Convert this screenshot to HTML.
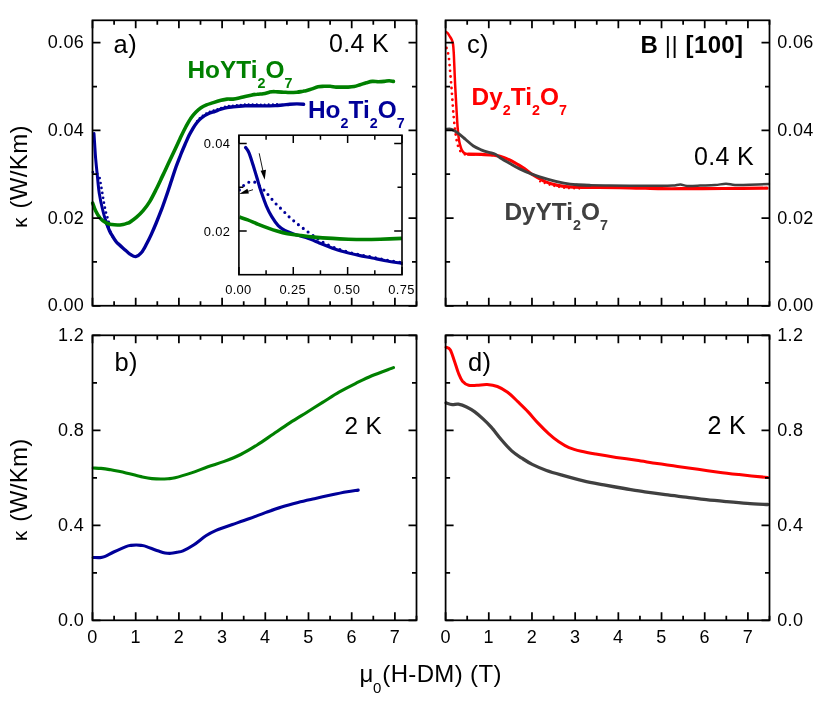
<!DOCTYPE html>
<html><head><meta charset="utf-8"><title>chart</title>
<style>
html,body{margin:0;padding:0;background:#fff;}
svg{display:block;will-change:transform;}
text{font-family:"Liberation Sans",sans-serif;letter-spacing:0.35px;}
.chem{letter-spacing:0;}
</style></head><body>
<svg width="830" height="701" viewBox="0 0 830 701">
<rect width="830" height="701" fill="#fff"/>
<path d="M92.9,172.2 C93.3,172.2 94.5,171.6 95.5,172.2 C96.5,172.8 98.1,174.6 98.9,176.0 C99.7,177.4 99.8,179.1 100.1,180.6 C100.4,182.1 100.7,183.6 101.0,185.2 C101.3,186.8 101.5,188.3 101.8,190.0 C102.1,191.7 102.4,193.4 102.7,195.1 C103.0,196.8 103.2,198.4 103.5,200.2 C103.8,202.0 104.1,203.8 104.5,205.7 C104.9,207.5 105.3,209.5 105.7,211.3 C106.1,213.1 106.6,214.9 107.1,216.5 C107.6,218.1 108.3,218.9 108.6,220.7 C108.9,222.5 108.2,225.2 108.7,227.5 C109.2,229.8 110.6,232.4 111.6,234.5 C112.6,236.6 113.5,238.4 114.8,240.0 C116.0,241.6 118.4,243.5 119.1,244.2" fill="none" stroke="#000099" stroke-width="2.7" stroke-linecap="round" stroke-dasharray="0 5.0"/>
<path d="M197.0,121.0 C197.7,120.2 199.5,118.0 201.4,116.5 C203.3,115.0 205.9,113.4 208.2,112.3 C210.5,111.2 212.9,110.7 215.0,109.9 C217.1,109.2 219.0,108.4 221.0,107.8 C223.0,107.2 225.0,106.6 227.0,106.2 C229.0,105.8 231.1,105.7 233.1,105.5 C235.1,105.3 237.1,105.1 239.1,104.9 C241.1,104.7 243.1,104.5 245.1,104.4 C247.1,104.3 248.1,104.3 251.1,104.3 C254.1,104.3 258.7,104.5 263.2,104.5 C267.7,104.5 275.5,104.2 278.0,104.2" fill="none" stroke="#000099" stroke-width="2.2" stroke-linecap="round" stroke-dasharray="0 4.0"/>
<path d="M94.0,133.5 C94.1,135.1 94.3,138.7 94.6,143.0 C94.9,147.3 95.2,153.6 95.7,159.2 C96.2,164.8 96.8,170.6 97.4,176.3 C98.0,182.0 98.4,187.8 99.3,193.4 C100.2,199.0 101.6,205.4 102.7,210.0 C103.8,214.6 104.8,217.9 105.7,220.7 C106.6,223.5 107.6,225.8 108.0,226.8" fill="none" stroke="#000099" stroke-width="3.0" stroke-linecap="round" stroke-linejoin="round"/>
<path d="M105.7,220.7 C106.3,222.4 108.4,228.3 109.6,231.0 C110.8,233.7 111.8,234.9 112.8,236.6 C113.8,238.3 114.8,239.9 115.8,241.2 C116.8,242.5 117.3,243.0 119.0,244.6 C120.7,246.2 124.0,248.9 125.8,250.5 C127.6,252.1 128.3,253.1 130.0,254.1 C131.7,255.1 133.8,256.9 135.7,256.6 C137.6,256.3 139.7,254.6 141.5,252.5 C143.3,250.4 144.8,247.3 146.4,244.3 C148.0,241.3 149.7,238.0 151.3,234.4 C152.9,230.8 154.6,226.9 156.2,223.0 C157.8,219.1 159.4,215.1 161.1,210.7 C162.8,206.3 164.4,201.5 166.1,196.7 C167.8,191.9 169.4,186.9 171.0,182.0 C172.6,177.1 174.3,171.8 175.9,167.2 C177.5,162.6 179.3,158.3 180.8,154.5 C182.3,150.7 183.6,147.7 185.0,144.5 C186.4,141.3 187.7,138.2 189.0,135.5 C190.3,132.8 191.7,130.5 193.0,128.3 C194.3,126.1 195.6,124.2 197.0,122.5 C198.4,120.8 199.5,119.5 201.4,118.0 C203.3,116.5 205.9,114.9 208.2,113.8 C210.5,112.7 212.9,112.2 215.0,111.4 C217.1,110.6 219.0,109.8 221.0,109.2 C223.0,108.6 225.0,108.0 227.0,107.6 C229.0,107.2 231.1,107.1 233.1,106.9 C235.1,106.7 237.1,106.5 239.1,106.3 C241.1,106.1 243.1,105.9 245.1,105.8 C247.1,105.7 248.1,105.7 251.1,105.7 C254.1,105.7 259.2,105.9 263.2,105.9 C267.2,105.9 272.0,105.8 275.2,105.6 C278.4,105.4 280.1,105.2 282.5,105.0 C284.9,104.8 287.3,104.4 289.7,104.2 C292.1,104.0 294.6,103.9 296.9,103.9 C299.2,103.9 302.5,104.2 303.6,104.3" fill="none" stroke="#000099" stroke-width="3.4" stroke-linecap="round" stroke-linejoin="round"/>
<path d="M92.7,203.2 C93.2,204.4 94.3,208.1 95.5,210.5 C96.7,212.9 98.0,215.8 99.8,217.8 C101.6,219.9 104.2,221.7 106.2,222.8 C108.2,223.9 110.1,224.2 112.0,224.6 C113.9,225.0 115.7,225.0 117.5,225.0 C119.3,225.0 121.4,224.7 123.0,224.4 C124.6,224.1 126.0,223.6 127.2,223.2 C128.4,222.8 128.4,223.1 130.0,222.1 C131.6,221.1 134.4,219.1 136.6,217.2 C138.8,215.3 140.9,213.3 143.1,210.7 C145.3,208.1 147.5,205.2 149.7,201.6 C151.9,198.0 154.0,193.7 156.2,189.3 C158.4,184.9 160.6,180.0 162.8,175.4 C165.0,170.8 167.2,165.9 169.3,161.5 C171.4,157.1 173.2,153.2 175.1,149.2 C177.0,145.2 178.7,141.4 180.5,137.6 C182.3,133.8 184.2,129.8 186.0,126.5 C187.8,123.2 189.3,120.4 191.0,118.0 C192.7,115.6 194.3,113.7 196.0,112.0 C197.7,110.3 199.2,109.0 201.0,107.8 C202.8,106.6 204.4,105.8 206.5,104.9 C208.6,104.0 211.0,103.4 213.4,102.6 C215.8,101.8 218.7,100.9 221.0,100.3 C223.3,99.7 225.0,99.3 227.0,99.1 C229.0,98.9 231.1,99.3 233.1,99.1 C235.1,98.9 237.1,98.4 239.1,97.9 C241.1,97.5 243.1,96.9 245.1,96.4 C247.1,96.0 249.1,95.6 251.1,95.2 C253.1,94.8 255.2,94.5 257.2,94.3 C259.2,94.0 261.2,94.0 263.2,93.7 C265.2,93.4 267.6,92.6 269.2,92.2 C270.8,91.8 271.4,91.6 272.8,91.6 C274.2,91.5 275.9,91.8 277.7,91.9 C279.5,92.0 281.7,92.1 283.7,92.2 C285.7,92.3 287.5,92.5 289.7,92.5 C291.9,92.5 294.7,92.4 296.9,92.2 C299.1,92.0 301.5,91.5 303.0,91.3 C304.5,91.0 304.5,91.1 306.0,90.7 C307.5,90.3 310.0,89.6 312.0,88.9 C314.0,88.2 316.1,87.1 318.1,86.7 C320.1,86.3 322.1,86.4 324.1,86.3 C326.1,86.2 328.1,86.2 330.1,86.3 C332.1,86.4 334.1,87.0 336.1,87.1 C338.1,87.2 340.2,87.1 342.2,87.1 C344.2,87.1 346.2,87.2 348.2,87.1 C350.2,87.0 352.2,86.9 354.2,86.5 C356.2,86.1 358.2,85.3 360.2,84.7 C362.2,84.1 364.3,83.2 366.3,82.7 C368.3,82.2 370.3,81.6 372.3,81.4 C374.3,81.2 376.3,81.7 378.3,81.7 C380.3,81.7 382.5,81.6 384.3,81.4 C386.1,81.2 387.7,80.7 389.2,80.7 C390.7,80.7 392.7,81.3 393.4,81.4" fill="none" stroke="#008000" stroke-width="3.6" stroke-linecap="round" stroke-linejoin="round"/>
<clipPath id="ic"><rect x="239.2" y="135.7" width="163.6" height="139"/></clipPath><g clip-path="url(#ic)">
<path d="M239.4,189.9 C240.1,189.2 242.1,186.7 243.7,185.4 C245.3,184.1 247.2,182.8 249.0,182.2 C250.8,181.6 252.5,181.4 254.3,182.0 C256.1,182.6 257.6,184.2 259.6,186.0 C261.6,187.8 263.9,189.9 266.3,192.6 C268.7,195.2 271.6,199.0 274.2,201.9 C276.8,204.8 279.5,207.2 282.2,209.8 C284.9,212.5 287.5,215.4 290.1,217.8 C292.8,220.2 295.5,222.3 298.1,224.4 C300.8,226.5 303.4,228.5 306.0,230.5 C308.6,232.5 311.4,234.5 314.0,236.3 C316.6,238.2 318.8,239.8 321.9,241.6 C325.0,243.4 328.5,245.3 332.5,246.9 C336.5,248.5 341.4,250.1 345.8,251.4 C350.2,252.7 354.6,253.6 359.0,254.6 C363.4,255.6 367.9,256.3 372.3,257.2 C376.7,258.1 380.6,259.0 385.5,259.9 C390.4,260.8 399.2,262.2 402.0,262.6" fill="none" stroke="#000099" stroke-width="3.1" stroke-linecap="round" stroke-dasharray="0 6.1"/>
<path d="M245.6,147.5 C246.2,148.4 247.8,149.9 249.0,152.8 C250.2,155.7 251.7,160.6 253.0,164.8 C254.3,169.0 255.7,173.6 257.0,178.0 C258.3,182.4 259.4,186.7 261.0,191.3 C262.6,195.9 264.5,201.6 266.3,205.8 C268.1,210.0 269.6,213.1 271.6,216.4 C273.6,219.7 276.0,223.3 278.2,225.7 C280.4,228.0 282.4,229.2 284.8,230.5 C287.2,231.8 289.3,232.5 292.8,233.7 C296.3,234.9 301.6,236.1 306.0,237.6 C310.4,239.1 314.9,241.1 319.3,242.9 C323.7,244.7 328.1,246.6 332.5,248.2 C336.9,249.8 341.4,251.0 345.8,252.2 C350.2,253.4 354.6,254.4 359.0,255.4 C363.4,256.4 367.9,257.1 372.3,258.0 C376.7,258.9 380.6,259.8 385.5,260.7 C390.4,261.6 399.2,262.9 402.0,263.4" fill="none" stroke="#000099" stroke-width="3.2" stroke-linecap="round" stroke-linejoin="round"/>
<path d="M239.4,217.0 C240.8,217.5 244.5,218.7 247.7,219.9 C250.8,221.1 254.8,223.0 258.3,224.4 C261.8,225.8 265.8,227.3 268.9,228.4 C272.0,229.5 273.8,230.1 276.9,231.0 C280.0,231.9 283.5,232.9 287.5,233.7 C291.5,234.4 296.3,234.9 300.7,235.5 C305.1,236.1 308.7,236.6 314.0,237.1 C319.3,237.6 326.8,238.1 332.5,238.4 C338.2,238.8 343.1,239.0 348.4,239.2 C353.7,239.4 359.0,239.5 364.3,239.5 C369.6,239.5 373.9,239.4 380.2,239.2 C386.5,239.0 398.4,238.5 402.0,238.4" fill="none" stroke="#008000" stroke-width="3.6" stroke-linecap="butt" stroke-linejoin="round"/>
</g>
<path d="M259.2,153.3L264,176" stroke="#000" stroke-width="0.9" fill="none"/><path d="M260.6,170.8L266,169.8L264.7,179.7Z" fill="#000"/>
<path d="M253,189.7L243,192.8" stroke="#000" stroke-width="0.9" fill="none"/><path d="M239.2,193.9L247.4,188.8L248.9,193.6Z" fill="#000"/>
<clipPath id="cc"><rect x="445.6" y="20.3" width="324.79999999999995" height="285.45"/></clipPath><g clip-path="url(#cc)">
<path d="M446.5,48.0 C446.9,49.3 448.0,52.3 448.6,56.0 C449.2,59.7 449.6,65.3 450.0,70.0 C450.4,74.7 450.8,79.0 451.2,84.0 C451.6,89.0 452.0,94.5 452.4,100.0 C452.8,105.5 453.2,111.8 453.7,117.0 C454.2,122.2 454.6,126.8 455.2,131.0 C455.8,135.2 456.3,138.9 457.0,142.0 C457.7,145.1 458.4,147.4 459.3,149.3 C460.2,151.2 461.1,152.5 462.5,153.4 C463.9,154.3 467.1,154.6 468.0,154.8" fill="none" stroke="#ff0000" stroke-width="2.8" stroke-linecap="round" stroke-dasharray="0 5.8"/>
<path d="M540.0,181.5 C542.0,182.2 547.8,184.4 552.0,185.5 C556.2,186.6 560.3,187.5 565.0,188.0 C569.7,188.5 577.5,188.5 580.0,188.6" fill="none" stroke="#ff0000" stroke-width="2.2" stroke-linecap="round" stroke-dasharray="0 5.0"/>
<path d="M445.8,31.8 C446.1,32.0 447.2,32.5 447.8,33.2 C448.4,33.9 448.9,35.0 449.6,36.1 C450.3,37.2 451.2,38.5 451.8,39.8 C452.4,41.1 452.7,42.0 453.0,44.0 C453.3,46.0 453.5,48.9 453.7,52.0 C453.9,55.1 454.0,57.5 454.2,62.9 C454.4,68.3 454.8,77.2 455.1,84.3 C455.5,91.4 455.9,98.6 456.3,105.7 C456.7,112.8 457.2,121.7 457.6,127.1 C458.0,132.5 458.3,135.0 458.7,137.9 C459.1,140.8 459.4,142.4 459.9,144.3 C460.4,146.2 460.9,148.2 461.6,149.6 C462.3,151.0 463.1,152.2 464.2,153.0 C465.3,153.8 466.7,154.0 468.3,154.2 C469.9,154.4 473.1,154.4 474.0,154.4" fill="none" stroke="#ff0000" stroke-width="2.5" stroke-linecap="round" stroke-linejoin="round"/>
<path d="M468.3,154.2 C470.4,154.2 476.8,154.2 481.1,154.4 C485.4,154.6 490.1,154.6 494.0,155.2 C497.9,155.8 500.9,156.6 504.3,157.8 C507.7,159.0 511.2,160.8 514.6,162.6 C518.0,164.4 521.8,166.9 524.8,168.9 C527.8,170.9 529.1,172.5 532.5,174.6 C535.9,176.7 540.9,179.8 545.1,181.6 C549.3,183.4 552.9,184.5 557.6,185.4 C562.3,186.3 566.5,186.9 573.3,187.2 C580.1,187.5 588.9,187.2 598.3,187.3 C607.7,187.4 619.1,187.6 629.6,187.8 C640.1,188.0 650.5,188.5 661.0,188.7 C671.5,188.8 681.9,188.7 692.3,188.7 C702.7,188.7 711.1,188.6 723.6,188.5 C736.1,188.4 759.8,188.2 767.0,188.2" fill="none" stroke="#ff0000" stroke-width="3.2" stroke-linecap="round" stroke-linejoin="round"/>
<path d="M445.7,129.3 C446.7,129.3 449.6,128.7 451.6,129.3 C453.7,129.9 455.6,131.4 458.0,133.1 C460.4,134.8 463.1,137.3 465.7,139.5 C468.3,141.7 470.8,144.3 473.4,146.0 C476.0,147.7 478.5,148.7 481.1,149.8 C483.7,150.9 486.4,151.7 488.8,152.4 C491.2,153.1 493.4,153.3 495.3,154.2 C497.2,155.1 498.0,156.5 500.4,158.0 C502.8,159.5 506.2,161.4 509.4,163.2 C512.6,165.0 515.9,167.0 519.7,168.9 C523.6,170.8 527.8,172.7 532.5,174.4 C537.2,176.2 543.0,177.9 548.2,179.4 C553.4,180.9 559.2,182.3 563.9,183.2 C568.6,184.1 572.0,184.5 576.4,184.8 C580.8,185.2 587.7,185.2 590.0,185.3" fill="none" stroke="#404040" stroke-width="2.9" stroke-linecap="round" stroke-linejoin="round"/>
<path d="M576.4,184.8 C578.7,184.9 584.6,185.2 590.0,185.3 C595.4,185.4 602.4,185.5 609.0,185.6 C615.6,185.7 620.9,185.7 629.6,185.7 C638.3,185.7 653.8,185.7 661.0,185.7 C668.2,185.7 669.8,185.8 673.0,185.6 C676.2,185.4 678.2,184.4 680.5,184.5 C682.8,184.6 683.8,185.7 687.0,185.9 C690.2,186.1 695.3,185.8 700.0,185.6 C704.7,185.4 710.7,185.3 715.0,185.0 C719.3,184.7 722.7,183.8 726.0,183.8 C729.3,183.8 731.0,184.8 735.0,185.0 C739.0,185.2 744.3,185.0 750.0,184.8 C755.7,184.6 765.8,184.1 769.0,184.0" fill="none" stroke="#404040" stroke-width="2.5" stroke-linecap="round" stroke-linejoin="round"/>
</g>
<path d="M93.2,468.0 C94.5,468.1 98.3,468.1 101.0,468.4 C103.7,468.7 105.4,468.9 109.6,469.6 C113.8,470.4 120.5,471.7 126.0,472.9 C131.5,474.1 138.1,476.1 142.4,477.0 C146.7,477.9 148.9,478.3 152.0,478.6 C155.1,478.9 158.1,479.0 160.8,479.0 C163.5,479.0 165.6,478.9 168.0,478.7 C170.4,478.5 171.2,478.8 175.1,477.8 C179.0,476.8 186.0,474.7 191.5,472.9 C197.0,471.1 202.4,468.7 207.9,466.8 C213.4,464.9 218.8,463.4 224.3,461.4 C229.8,459.3 235.2,457.2 240.7,454.5 C246.2,451.8 251.7,448.4 257.1,445.0 C262.6,441.6 267.9,437.7 273.4,434.0 C278.8,430.3 284.3,426.4 289.8,422.9 C295.3,419.3 300.7,416.1 306.2,412.7 C311.7,409.3 317.1,405.8 322.6,402.4 C328.1,399.0 333.5,395.3 339.0,392.2 C344.5,389.1 349.9,386.3 355.4,383.6 C360.9,380.9 365.4,378.5 371.8,375.8 C378.2,373.1 389.9,369.0 393.5,367.6" fill="none" stroke="#008000" stroke-width="3.1" stroke-linecap="round" stroke-linejoin="round"/>
<path d="M93.2,557.5 C94.3,557.5 98.1,557.8 100.0,557.6 C101.9,557.5 102.2,557.5 104.5,556.6 C106.8,555.7 110.1,553.7 113.7,552.0 C117.3,550.3 123.1,547.7 126.0,546.6 C128.9,545.5 129.3,545.7 131.0,545.4 C132.7,545.1 134.5,545.0 136.2,545.0 C137.9,545.0 139.3,545.1 141.0,545.4 C142.7,545.7 143.6,545.6 146.5,546.6 C149.4,547.6 155.6,550.1 158.7,551.1 C161.8,552.1 162.9,552.5 165.0,552.9 C167.1,553.3 169.0,553.4 171.0,553.3 C173.0,553.2 175.0,552.7 177.0,552.3 C179.0,551.9 180.2,552.0 183.0,550.8 C185.8,549.6 189.8,547.5 193.6,545.0 C197.4,542.5 202.2,538.2 205.9,535.8 C209.7,533.4 211.7,532.3 216.1,530.4 C220.5,528.5 227.0,526.4 232.5,524.5 C238.0,522.6 243.4,520.8 248.9,518.8 C254.4,516.8 259.9,514.6 265.3,512.6 C270.8,510.6 276.2,508.6 281.6,506.9 C287.1,505.2 292.5,503.8 298.0,502.4 C303.5,501.0 308.9,499.9 314.4,498.7 C319.9,497.5 325.3,496.2 330.8,495.0 C336.3,493.8 342.6,492.5 347.2,491.7 C351.8,490.9 356.4,490.4 358.2,490.1" fill="none" stroke="#000099" stroke-width="3.1" stroke-linecap="round" stroke-linejoin="round"/>
<path d="M446.1,347.2 C446.8,347.6 448.8,347.4 450.2,349.7 C451.6,351.9 452.9,356.8 454.3,360.7 C455.7,364.6 457.0,369.6 458.4,373.0 C459.8,376.4 460.8,379.1 462.5,381.2 C464.2,383.2 466.3,384.6 468.7,385.3 C471.1,386.0 473.8,385.4 476.9,385.3 C480.0,385.2 483.7,384.3 487.1,384.5 C490.5,384.7 494.0,385.2 497.4,386.5 C500.8,387.8 504.2,389.8 507.6,392.3 C511.0,394.8 514.4,398.4 517.8,401.7 C521.2,405.0 524.7,408.3 528.1,411.9 C531.5,415.5 534.9,419.8 538.3,423.4 C541.7,427.0 545.2,430.5 548.6,433.6 C552.0,436.7 555.4,439.5 558.8,441.8 C562.2,444.1 565.2,446.0 569.0,447.6 C572.8,449.2 576.8,450.2 581.3,451.3 C585.8,452.4 589.9,453.1 595.7,454.1 C601.5,455.1 609.4,456.4 616.2,457.4 C623.0,458.4 629.8,459.3 636.6,460.3 C643.4,461.3 650.3,462.6 657.1,463.6 C663.9,464.6 670.8,465.4 677.6,466.4 C684.4,467.3 691.3,468.3 698.1,469.3 C704.9,470.3 711.8,471.3 718.6,472.2 C725.4,473.1 730.9,473.7 739.1,474.6 C747.3,475.5 762.9,477.0 767.7,477.5" fill="none" stroke="#ff0000" stroke-width="3.0" stroke-linecap="round" stroke-linejoin="round"/>
<path d="M446.1,402.9 C447.1,403.2 450.2,404.4 452.3,404.6 C454.4,404.8 456.0,403.8 458.4,404.2 C460.8,404.6 463.9,405.7 466.6,407.0 C469.3,408.3 472.1,409.9 474.8,411.9 C477.5,413.9 480.3,416.4 483.0,418.9 C485.7,421.4 488.1,423.6 491.2,427.1 C494.3,430.6 498.0,435.8 501.4,439.8 C504.8,443.8 508.3,447.8 511.7,450.9 C515.1,454.0 518.5,455.9 521.9,458.2 C525.3,460.4 528.1,462.3 532.2,464.4 C536.3,466.4 541.4,468.7 546.5,470.5 C551.6,472.3 556.8,473.7 562.9,475.4 C569.0,477.1 576.6,479.2 583.4,480.8 C590.2,482.4 597.1,483.6 603.9,484.9 C610.7,486.2 617.5,487.4 624.3,488.5 C631.1,489.6 638.0,490.8 644.8,491.8 C651.6,492.8 658.5,493.8 665.3,494.7 C672.1,495.6 679.0,496.3 685.8,497.1 C692.6,497.9 699.5,498.9 706.3,499.6 C713.1,500.4 720.0,501.0 726.8,501.6 C733.6,502.2 740.4,502.8 747.2,503.3 C754.0,503.8 764.3,504.3 767.7,504.5" fill="none" stroke="#404040" stroke-width="3.3" stroke-linecap="round" stroke-linejoin="round"/>
<rect x="92.5" y="20.3" width="324.00" height="285.45" fill="none" stroke="#000" stroke-width="1.75"/>
<path d="M92.50,305.75v-8M92.50,20.3v8M114.10,305.75v-4.5M114.10,20.3v4.5M135.70,305.75v-8M135.70,20.3v8M157.30,305.75v-4.5M157.30,20.3v4.5M178.90,305.75v-8M178.90,20.3v8M200.50,305.75v-4.5M200.50,20.3v4.5M222.10,305.75v-8M222.10,20.3v8M243.70,305.75v-4.5M243.70,20.3v4.5M265.30,305.75v-8M265.30,20.3v8M286.90,305.75v-4.5M286.90,20.3v4.5M308.50,305.75v-8M308.50,20.3v8M330.10,305.75v-4.5M330.10,20.3v4.5M351.70,305.75v-8M351.70,20.3v8M373.30,305.75v-4.5M373.30,20.3v4.5M394.90,305.75v-8M394.90,20.3v8M416.50,305.75v-4.5M416.50,20.3v4.5" stroke="#000" stroke-width="1.75" fill="none"/>
<path d="M92.5,305.75h8M416.5,305.75h-8M92.5,261.90h4.5M416.5,261.90h-4.5M92.5,218.05h8M416.5,218.05h-8M92.5,174.20h4.5M416.5,174.20h-4.5M92.5,130.35h8M416.5,130.35h-8M92.5,86.50h4.5M416.5,86.50h-4.5M92.5,42.65h8M416.5,42.65h-8" stroke="#000" stroke-width="1.75" fill="none"/>
<rect x="92.5" y="335.3" width="324.00" height="285.00" fill="none" stroke="#000" stroke-width="1.75"/>
<path d="M92.50,620.3v-8M92.50,335.3v8M114.10,620.3v-4.5M114.10,335.3v4.5M135.70,620.3v-8M135.70,335.3v8M157.30,620.3v-4.5M157.30,335.3v4.5M178.90,620.3v-8M178.90,335.3v8M200.50,620.3v-4.5M200.50,335.3v4.5M222.10,620.3v-8M222.10,335.3v8M243.70,620.3v-4.5M243.70,335.3v4.5M265.30,620.3v-8M265.30,335.3v8M286.90,620.3v-4.5M286.90,335.3v4.5M308.50,620.3v-8M308.50,335.3v8M330.10,620.3v-4.5M330.10,335.3v4.5M351.70,620.3v-8M351.70,335.3v8M373.30,620.3v-4.5M373.30,335.3v4.5M394.90,620.3v-8M394.90,335.3v8M416.50,620.3v-4.5M416.50,335.3v4.5" stroke="#000" stroke-width="1.75" fill="none"/>
<path d="M92.5,620.30h8M416.5,620.30h-8M92.5,572.80h4.5M416.5,572.80h-4.5M92.5,525.30h8M416.5,525.30h-8M92.5,477.80h4.5M416.5,477.80h-4.5M92.5,430.30h8M416.5,430.30h-8M92.5,382.80h4.5M416.5,382.80h-4.5M92.5,335.30h8M416.5,335.30h-8" stroke="#000" stroke-width="1.75" fill="none"/>
<rect x="445.6" y="20.3" width="323.90" height="285.45" fill="none" stroke="#000" stroke-width="1.75"/>
<path d="M445.60,305.75v-8M445.60,20.3v8M467.19,305.75v-4.5M467.19,20.3v4.5M488.79,305.75v-8M488.79,20.3v8M510.38,305.75v-4.5M510.38,20.3v4.5M531.97,305.75v-8M531.97,20.3v8M553.57,305.75v-4.5M553.57,20.3v4.5M575.16,305.75v-8M575.16,20.3v8M596.75,305.75v-4.5M596.75,20.3v4.5M618.35,305.75v-8M618.35,20.3v8M639.94,305.75v-4.5M639.94,20.3v4.5M661.53,305.75v-8M661.53,20.3v8M683.13,305.75v-4.5M683.13,20.3v4.5M704.72,305.75v-8M704.72,20.3v8M726.31,305.75v-4.5M726.31,20.3v4.5M747.91,305.75v-8M747.91,20.3v8M769.50,305.75v-4.5M769.50,20.3v4.5" stroke="#000" stroke-width="1.75" fill="none"/>
<path d="M445.6,305.75h8M769.5,305.75h-8M445.6,261.90h4.5M769.5,261.90h-4.5M445.6,218.05h8M769.5,218.05h-8M445.6,174.20h4.5M769.5,174.20h-4.5M445.6,130.35h8M769.5,130.35h-8M445.6,86.50h4.5M769.5,86.50h-4.5M445.6,42.65h8M769.5,42.65h-8" stroke="#000" stroke-width="1.75" fill="none"/>
<rect x="445.6" y="335.3" width="323.90" height="285.00" fill="none" stroke="#000" stroke-width="1.75"/>
<path d="M445.60,620.3v-8M445.60,335.3v8M467.19,620.3v-4.5M467.19,335.3v4.5M488.79,620.3v-8M488.79,335.3v8M510.38,620.3v-4.5M510.38,335.3v4.5M531.97,620.3v-8M531.97,335.3v8M553.57,620.3v-4.5M553.57,335.3v4.5M575.16,620.3v-8M575.16,335.3v8M596.75,620.3v-4.5M596.75,335.3v4.5M618.35,620.3v-8M618.35,335.3v8M639.94,620.3v-4.5M639.94,335.3v4.5M661.53,620.3v-8M661.53,335.3v8M683.13,620.3v-4.5M683.13,335.3v4.5M704.72,620.3v-8M704.72,335.3v8M726.31,620.3v-4.5M726.31,335.3v4.5M747.91,620.3v-8M747.91,335.3v8M769.50,620.3v-4.5M769.50,335.3v4.5" stroke="#000" stroke-width="1.75" fill="none"/>
<path d="M445.6,620.30h8M769.5,620.30h-8M445.6,572.80h4.5M769.5,572.80h-4.5M445.6,525.30h8M769.5,525.30h-8M445.6,477.80h4.5M769.5,477.80h-4.5M445.6,430.30h8M769.5,430.30h-8M445.6,382.80h4.5M769.5,382.80h-4.5M445.6,335.30h8M769.5,335.30h-8" stroke="#000" stroke-width="1.75" fill="none"/>
<rect x="238.9" y="135.2" width="163.10" height="139.50" fill="none" stroke="#000" stroke-width="1.6"/>
<path d="M238.90,274.7v-7.8M238.90,135.2v7.8M266.08,274.7v-4.5M266.08,135.2v4.5M293.27,274.7v-7.8M293.27,135.2v7.8M320.45,274.7v-4.5M320.45,135.2v4.5M347.63,274.7v-7.8M347.63,135.2v7.8M374.82,274.7v-4.5M374.82,135.2v4.5M402.00,274.7v-7.8M402.00,135.2v7.8" stroke="#000" stroke-width="1.5" fill="none"/>
<path d="M238.9,231.00h7.8M402.0,231.00h-7.8M238.9,187.30h4.5M402.0,187.30h-4.5M238.9,143.60h7.8M402.0,143.60h-7.8" stroke="#000" stroke-width="1.5" fill="none"/>
<text x="84.2" y="311.4" font-size="18" text-anchor="end" font-weight="normal" fill="#000" >0.00</text>
<text x="777.2" y="311.4" font-size="18" text-anchor="start" font-weight="normal" fill="#000" >0.00</text>
<text x="84.2" y="223.7" font-size="18" text-anchor="end" font-weight="normal" fill="#000" >0.02</text>
<text x="777.2" y="223.7" font-size="18" text-anchor="start" font-weight="normal" fill="#000" >0.02</text>
<text x="84.2" y="135.9" font-size="18" text-anchor="end" font-weight="normal" fill="#000" >0.04</text>
<text x="777.2" y="135.9" font-size="18" text-anchor="start" font-weight="normal" fill="#000" >0.04</text>
<text x="84.2" y="48.3" font-size="18" text-anchor="end" font-weight="normal" fill="#000" >0.06</text>
<text x="777.2" y="48.3" font-size="18" text-anchor="start" font-weight="normal" fill="#000" >0.06</text>
<text x="84.2" y="625.9" font-size="18" text-anchor="end" font-weight="normal" fill="#000" >0.0</text>
<text x="777.2" y="625.9" font-size="18" text-anchor="start" font-weight="normal" fill="#000" >0.0</text>
<text x="84.2" y="530.9" font-size="18" text-anchor="end" font-weight="normal" fill="#000" >0.4</text>
<text x="777.2" y="530.9" font-size="18" text-anchor="start" font-weight="normal" fill="#000" >0.4</text>
<text x="84.2" y="435.9" font-size="18" text-anchor="end" font-weight="normal" fill="#000" >0.8</text>
<text x="777.2" y="435.9" font-size="18" text-anchor="start" font-weight="normal" fill="#000" >0.8</text>
<text x="84.2" y="340.9" font-size="18" text-anchor="end" font-weight="normal" fill="#000" >1.2</text>
<text x="777.2" y="340.9" font-size="18" text-anchor="start" font-weight="normal" fill="#000" >1.2</text>
<text x="92.5" y="643" font-size="18" text-anchor="middle" font-weight="normal" fill="#000" >0</text>
<text x="135.7" y="643" font-size="18" text-anchor="middle" font-weight="normal" fill="#000" >1</text>
<text x="178.9" y="643" font-size="18" text-anchor="middle" font-weight="normal" fill="#000" >2</text>
<text x="222.1" y="643" font-size="18" text-anchor="middle" font-weight="normal" fill="#000" >3</text>
<text x="265.3" y="643" font-size="18" text-anchor="middle" font-weight="normal" fill="#000" >4</text>
<text x="308.5" y="643" font-size="18" text-anchor="middle" font-weight="normal" fill="#000" >5</text>
<text x="351.7" y="643" font-size="18" text-anchor="middle" font-weight="normal" fill="#000" >6</text>
<text x="394.9" y="643" font-size="18" text-anchor="middle" font-weight="normal" fill="#000" >7</text>
<text x="445.6" y="643" font-size="18" text-anchor="middle" font-weight="normal" fill="#000" >0</text>
<text x="488.8" y="643" font-size="18" text-anchor="middle" font-weight="normal" fill="#000" >1</text>
<text x="532.0" y="643" font-size="18" text-anchor="middle" font-weight="normal" fill="#000" >2</text>
<text x="575.2" y="643" font-size="18" text-anchor="middle" font-weight="normal" fill="#000" >3</text>
<text x="618.3" y="643" font-size="18" text-anchor="middle" font-weight="normal" fill="#000" >4</text>
<text x="661.5" y="643" font-size="18" text-anchor="middle" font-weight="normal" fill="#000" >5</text>
<text x="704.7" y="643" font-size="18" text-anchor="middle" font-weight="normal" fill="#000" >6</text>
<text x="747.9" y="643" font-size="18" text-anchor="middle" font-weight="normal" fill="#000" >7</text>
<text x="238.4" y="294.3" font-size="12.9" text-anchor="middle" font-weight="normal" fill="#000" letter-spacing="0">0.00</text>
<text x="292.8" y="294.3" font-size="12.9" text-anchor="middle" font-weight="normal" fill="#000" letter-spacing="0">0.25</text>
<text x="347.1" y="294.3" font-size="12.9" text-anchor="middle" font-weight="normal" fill="#000" letter-spacing="0">0.50</text>
<text x="401.5" y="294.3" font-size="12.9" text-anchor="middle" font-weight="normal" fill="#000" letter-spacing="0">0.75</text>
<text x="230.2" y="235.8" font-size="12.9" text-anchor="end" font-weight="normal" fill="#000" letter-spacing="0">0.02</text>
<text x="230.2" y="148" font-size="12.9" text-anchor="end" font-weight="normal" fill="#000" letter-spacing="0">0.04</text>
<text x="113.6" y="52.6" font-size="25.5" text-anchor="start" font-weight="normal" fill="#000" >a)</text>
<text x="114.4" y="371" font-size="25.5" text-anchor="start" font-weight="normal" fill="#000" >b)</text>
<text x="467" y="53" font-size="25.5" text-anchor="start" font-weight="normal" fill="#000" >c)</text>
<text x="468" y="371" font-size="25.5" text-anchor="start" font-weight="normal" fill="#000" >d)</text>
<text x="329" y="52" font-size="25" text-anchor="start" font-weight="normal" fill="#000" >0.4 K</text>
<text x="694" y="164.5" font-size="25" text-anchor="start" font-weight="normal" fill="#000" >0.4 K</text>
<text x="344.6" y="434.4" font-size="24.3" text-anchor="start" font-weight="normal" fill="#000" letter-spacing="-0.3">2 K</text>
<text x="707.5" y="433.7" font-size="25" text-anchor="start" font-weight="normal" fill="#000" >2 K</text>
<text x="640.4" y="52.8" font-size="24" text-anchor="start" font-weight="bold" fill="#000" >B</text>
<text x="664.8" y="52.8" font-size="24" text-anchor="start" font-weight="normal" fill="#000" letter-spacing="1.1">||</text>
<text x="685.6" y="52.8" font-size="24" text-anchor="start" font-weight="bold" fill="#000" >[100]</text>
<text x="187.5" y="78.3" font-size="24.4" text-anchor="start" font-weight="bold" fill="#008000" class="chem"><tspan dy="0">HoYTi</tspan><tspan font-size="14.3" dy="10">2</tspan><tspan dy="-10">O</tspan><tspan font-size="14.3" dy="10">7</tspan></text>
<text x="308" y="117.7" font-size="24.4" text-anchor="start" font-weight="bold" fill="#000099" class="chem"><tspan dy="0">Ho</tspan><tspan font-size="14.3" dy="10">2</tspan><tspan dy="-10">Ti</tspan><tspan font-size="14.3" dy="10">2</tspan><tspan dy="-10">O</tspan><tspan font-size="14.3" dy="10">7</tspan></text>
<text x="471.6" y="105.0" font-size="24.4" text-anchor="start" font-weight="bold" fill="#ff0000" class="chem"><tspan dy="0">Dy</tspan><tspan font-size="14.3" dy="10">2</tspan><tspan dy="-10">Ti</tspan><tspan font-size="14.3" dy="10">2</tspan><tspan dy="-10">O</tspan><tspan font-size="14.3" dy="10">7</tspan></text>
<text x="504.4" y="219.6" font-size="24.4" text-anchor="start" font-weight="bold" fill="#404040" class="chem"><tspan dy="0">DyYTi</tspan><tspan font-size="14.3" dy="10">2</tspan><tspan dy="-10">O</tspan><tspan font-size="14.3" dy="10">7</tspan></text>
<text x="359.5" y="682.3" font-size="24" text-anchor="start" font-weight="normal" fill="#000" >μ</text>
<text x="373" y="693" font-size="15" text-anchor="start" font-weight="normal" fill="#000" >0</text>
<text x="382.3" y="682.3" font-size="24" text-anchor="start" font-weight="normal" fill="#000" letter-spacing="0.38">(H-DM) (T)</text>
<text transform="translate(27.4,227.8) rotate(-90)" font-size="20.5">κ</text>
<text transform="translate(27.4,208.5) rotate(-90)" font-size="24" letter-spacing="0.4">(W/Km)</text>
<text transform="translate(27.4,541.0) rotate(-90)" font-size="20.5">κ</text>
<text transform="translate(27.4,521.7) rotate(-90)" font-size="24" letter-spacing="0.4">(W/Km)</text>
</svg>
</body></html>
